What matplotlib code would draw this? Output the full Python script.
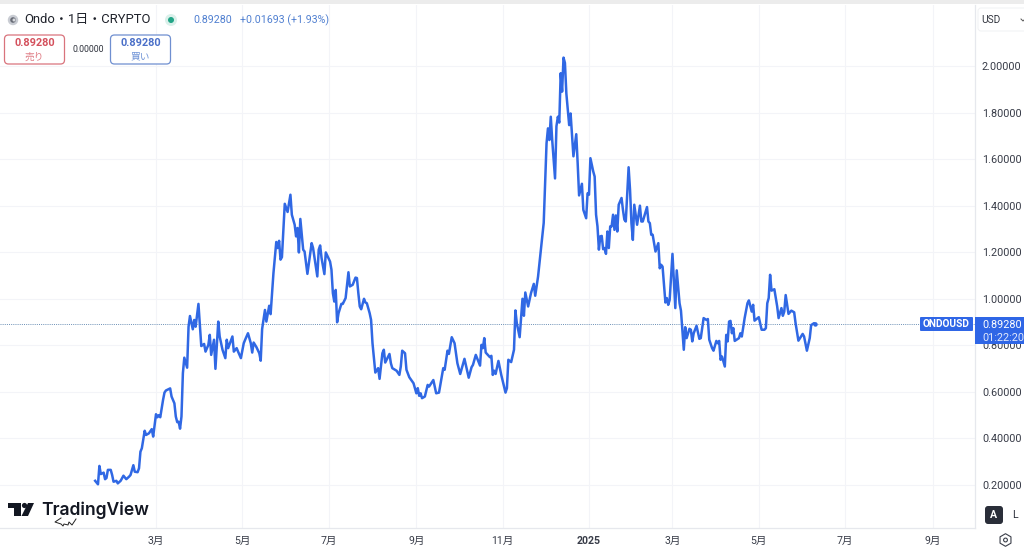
import matplotlib
matplotlib.use("Agg")
import matplotlib.pyplot as plt
import matplotlib.dates as mdates
from matplotlib.patches import FancyBboxPatch, Rectangle, Circle, Polygon, RegularPolygon
import pandas as pd

plt.rcParams['font.family'] = ['Roboto', 'Noto Sans CJK JP', 'DejaVu Sans']

start_date = "2024-01-18"
day_offsets = [0,2,3,4,6,7,8,9,11,12,13,15,16,18,20,22,24,25,27,28,30,31,32,33,35,36,38,40,41,43,44,45,46,48,49,50,52,53,54,56,57,58,59,60,61,62,63,65,66,67,69,70,71,73,75,77,78,80,81,82,84,85,87,88,90,92,93,94,97,98,100,101,103,105,106,108,110,111,112,114,116,117,118,120,121,123,124,126,128,129,130,131,132,134,136,138,139,141,142,143,144,145,147,148,150,153,154,157,158,159,160,162,163,166,167,168,169,170,171,172,174,175,177,179,180,182,184,185,186,187,188,190,191,192,194,195,196,198,200,201,203,204,205,208,209,210,213,215,216,217,219,220,222,225,227,228,229,230,231,233,235,236,239,241,243,246,247,249,250,252,254,256,258,261,264,266,267,269,272,273,274,275,276,279,280,281,282,283,285,287,290,291,292,294,296,297,298,300,302,303,304,306,308,310,311,313,314,316,317,318,319,320,321,322,323,325,326,327,328,329,330,331,332,333,335,336,338,340,341,342,344,345,347,348,349,350,352,353,354,355,356,357,358,359,360,361,362,363,364,365,366,367,368,369,370,372,373,374,375,377,378,379,380,381,383,385,386,387,390,391,392,393,394,396,398,399,400,401,403,404,405,406,408,410,411,413,414,416,417,418,420,421,422,423,425,427,428,430,432,433,434,436,437,439,440,441,442,443,445,446,447,448,449,450,451,452,455,456,457,459,461,462,464,465,466,469,471,473,474,475,476,477,478,480,482,483,485,486,487,488,490,492,494,495,497,500,501,503,505,506,508,509]
prices = [.218,.203,.282,.247,.253,.225,.23,.265,.265,.243,.214,.218,.207,.218,.24,.225,.236,.243,.285,.257,.255,.272,.343,.358,.433,.415,.422,.44,.408,.504,.491,.5,.491,.566,.597,.606,.612,.615,.58,.551,.494,.47,.472,.442,.494,.68,.747,.704,.88,.926,.869,.909,.88,.978,.797,.806,.773,.802,.845,.759,.824,.699,.902,.838,.781,.745,.824,.788,.838,.773,.788,.773,.745,.809,.824,.852,.809,.769,.812,.792,.766,.734,.87,.952,.902,.97,.934,1.11,1.244,1.218,1.249,1.168,1.179,1.408,1.373,1.447,1.361,1.318,1.268,1.304,1.199,1.343,1.211,1.203,1.107,1.239,1.218,1.096,1.211,1.229,1.175,1.106,1.199,1.16,1.125,1.024,.988,1.038,.899,.938,.978,.978,1.003,1.114,1.053,1.06,1.091,1.089,1.024,.967,.955,1.0,.984,.981,.938,.909,.809,.683,.702,.656,.766,.781,.726,.763,.723,.702,.691,.673,.709,.777,.766,.695,.663,.637,.594,.616,.583,.594,.573,.58,.63,.623,.651,.594,.597,.702,.695,.777,.763,.835,.809,.723,.677,.742,.661,.706,.716,.759,.713,.802,.788,.831,.769,.749,.755,.673,.691,.677,.733,.673,.597,.616,.738,.728,.781,.95,.895,.835,1.0,.927,1.027,.967,1.024,1.064,1.013,1.095,1.152,1.267,1.326,1.496,1.668,1.732,1.682,1.782,1.682,1.517,1.741,1.782,1.757,1.969,1.89,2.036,2.013,1.882,1.746,1.796,1.612,1.707,1.582,1.444,1.494,1.382,1.346,1.453,1.447,1.604,1.547,1.525,1.361,1.311,1.211,1.268,1.27,1.213,1.218,1.193,1.289,1.218,1.311,1.311,1.361,1.296,1.358,1.289,1.404,1.433,1.382,1.34,1.332,1.565,1.469,1.325,1.253,1.404,1.318,1.4,1.332,1.332,1.394,1.332,1.325,1.275,1.275,1.203,1.239,1.131,1.146,1.138,.984,1.003,.974,.995,1.193,.96,1.122,.981,.949,.781,.878,.831,.871,.867,.817,.852,.884,.828,.831,.917,.909,.913,.824,.788,.777,.819,.809,.819,.738,.752,.709,.845,.817,.902,.905,.852,.874,.819,.831,.852,.838,.917,.981,.993,.945,.974,.906,.921,.867,.867,.874,.981,1.003,1.103,1.035,1.041,.967,.917,.96,.927,.945,1.016,.935,.949,.942,.895,.82,.849,.838,.777,.831,.887,.895,.8928]

price_ticks = [0.2,0.4,0.6,0.8,1.0,1.2,1.4,1.6,1.8,2.0]
month_dates = ["2024-03-01","2024-05-01","2024-07-01","2024-09-01","2024-11-01","2025-01-01","2025-03-01","2025-05-01","2025-07-01","2025-09-01"]
month_labels = ["3月","5月","7月","9月","11月","2025","3月","5月","7月","9月"]
last_price = 0.8928

W, H = 1024, 552
BLUE = "#2f66e6"
GRID = "#f3f4f8"
BORDER = "#e6e8ed"
TXT = "#383c48"

fig = plt.figure(figsize=(W/100, H/100), dpi=100, facecolor="white")
L, R, T, B = 0, 975, 5, 528
ax = fig.add_axes([L/W, 1-B/H, (R-L)/W, (B-T)/H])

dates = pd.to_datetime(start_date) + pd.to_timedelta(day_offsets, unit="D")
ax.plot(dates, prices, color="#3068e4", lw=1.8, solid_joinstyle="round", zorder=3)
ax.plot(dates[-1:], prices[-1:], "o", color="#3068e4", ms=3.2, mew=0, zorder=4)
ax.axhline(last_price, color="#6b8fb5", lw=0.7, ls=(0, (1, 1.2)), zorder=2)

px_per_day = 1.415
ref = mdates.date2num(pd.Timestamp("2024-03-01"))
ax.set_xlim(ref - 156/px_per_day, ref + (975-156)/px_per_day)
px_per_unit = 232.8
ax.set_ylim(0.2 - (528-485)/px_per_unit, 2.0 + (66-5)/px_per_unit)

tick_pos = [mdates.date2num(pd.Timestamp(d)) for d in month_dates]
ax.set_xticks(tick_pos)
ax.set_xticklabels(month_labels, fontsize=7.6, color=TXT)
for lab, txt in zip(ax.get_xticklabels(), month_labels):
    if txt == "2025":
        lab.set_fontweight("bold")
ax.yaxis.tick_right()
ax.set_yticks(price_ticks)
ax.set_yticklabels([f"{v:.5f}" for v in price_ticks], fontsize=7.8, color=TXT)
ax.tick_params(axis="both", length=0)
ax.tick_params(axis="x", pad=5.5)
ax.tick_params(axis="y", pad=5)
ax.grid(True, color=GRID, lw=0.8, zorder=0)
ax.set_axisbelow(True)
for s in ("top", "left"):
    ax.spines[s].set_visible(False)
for s in ("right", "bottom"):
    ax.spines[s].set_color(BORDER)
    ax.spines[s].set_linewidth(0.9)

# overlay in pixel coordinates for the interface chrome
ov = fig.add_axes([0, 0, 1, 1], facecolor="none")
ov.set_xlim(0, W); ov.set_ylim(H, 0); ov.axis("off")

ov.add_patch(Rectangle((0, 0), W, 4, color="#ececec", lw=0))
# header
ov.add_patch(Circle((13, 20), 5.2, color="#c9ccd3", lw=0))
ov.add_patch(Circle((13, 20), 2.8, color="#6a6e78", lw=0))
ov.add_patch(Circle((14, 20), 1.5, color="#d8dade", lw=0))
ov.text(24, 20, "Ondo・1日・CRYPTO", fontsize=9.4, color="#1f222b", va="center", ha="left")
ov.add_patch(Circle((171, 20), 6, color="#daf0ea", lw=0))
ov.add_patch(Circle((171, 20), 3, color="#22a587", lw=0))
ov.text(193, 20, "0.89280", fontsize=7.7, color="#4f7fd0", va="center")
ov.text(240, 20, "+0.01693 (+1.93%)", fontsize=7.7, color="#4f7fd0", va="center")


def box(x0, y0, x1, y1, ec, fc="white", r=4, lw=0.9):
    ov.add_patch(FancyBboxPatch((x0+r, y0+r), x1-x0-2*r, y1-y0-2*r,
                                boxstyle=f"round,pad={r},rounding_size={r}",
                                ec=ec, fc=fc, lw=lw))

box(4.5, 35, 64.5, 64, "#d9737c")
ov.text(34.5, 43.5, "0.89280", fontsize=7.8, fontweight="bold", color="#d4505c", ha="center", va="center")
ov.text(34.5, 56.5, "売り", fontsize=7, color="#e07f87", ha="center", va="center")
ov.text(88, 49, "0.00000", fontsize=6.3, color="#30343e", ha="center", va="center")
box(110.5, 35, 170.5, 64, "#6f8fd0")
ov.text(140.5, 43.5, "0.89280", fontsize=7.8, fontweight="bold", color="#4a6fc8", ha="center", va="center")
ov.text(140.5, 56.5, "買い", fontsize=7, color="#6f93d6", ha="center", va="center")

# USD selector
box(978, 8, 1030, 31, "#f0f1f3", r=3, lw=0.7)
ov.text(981, 20, "USD", fontsize=7.3, color="#33363f", va="center")
ov.plot([1021, 1023, 1025], [19, 21, 19], color="#555", lw=0.7)

# last price tags
box(920, 317, 973, 331, BLUE, fc=BLUE, r=1, lw=0)
ov.text(946.5, 324, "ONDOUSD", fontsize=7.3, fontweight="bold", color="white", ha="center", va="center")
ov.add_patch(Rectangle((975, 317), 49, 27, color=BLUE, lw=0))
ov.text(982, 324.5, "0.89280", fontsize=7.8, color="white", va="center")
ov.text(982, 338, "01:22:20", fontsize=7.8, color="#dfe7fb", va="center")

# logo
ov.add_patch(Polygon([(8, 503), (21, 503), (21, 516), (14, 516), (14, 508), (8, 508)], color="#131722", lw=0))
ov.add_patch(Circle((24.5, 505.5), 2.6, color="#131722", lw=0))
ov.add_patch(Polygon([(28, 503), (34, 503), (28, 516), (21.5, 516)], color="#131722", lw=0))
ov.text(41, 510, "TradingView", fontsize=12.6, fontweight="semibold", family=["Inter", "DejaVu Sans"],
        color="#131722", va="center", ha="left")
ov.plot([61, 55, 61, 63, 64, 68, 69, 72, 74, 76],
        [518, 522, 524, 526, 524, 525, 522, 525, 522, 519], color="#222", lw=0.7)

# A / L buttons
box(985, 506, 1003, 524, "#2a2e39", fc="#2a2e39", r=3, lw=0)
ov.text(994, 515, "A", fontsize=7.6, color="white", fontweight="bold", ha="center", va="center")
ov.text(1015, 514.5, "L", fontsize=7.6, color="#2a2e39", ha="center", va="center")

# settings icon
ov.add_patch(RegularPolygon((1005.5, 540), 6, radius=6.3, fc="none", ec="#3b3f4a", lw=0.8))
ov.add_patch(Circle((1005.5, 540), 1.9, fc="none", ec="#3b3f4a", lw=0.8))

fig.savefig("out.png", dpi=100, facecolor="white")
